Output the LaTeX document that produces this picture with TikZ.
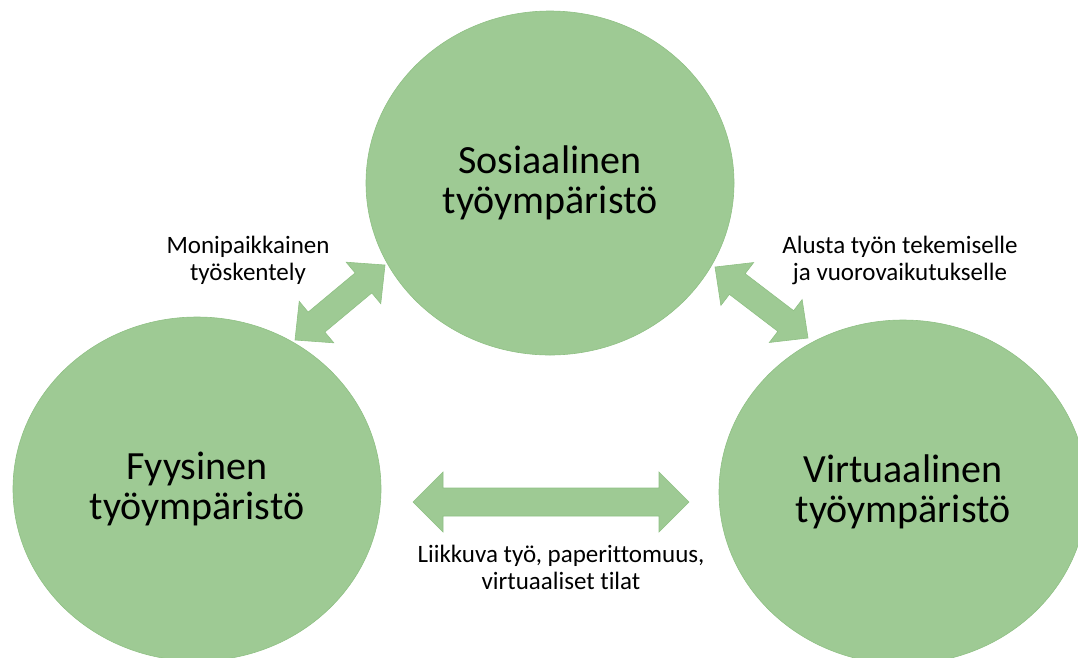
\documentclass[tikz,border=0pt]{standalone}
\usepackage{fontspec}
\setmainfont[Ligatures=NoCommon]{Carlito}
\usetikzlibrary{shapes.geometric,calc}

\definecolor{leaf}{RGB}{158,202,148}
\definecolor{leafedge}{RGB}{143,192,132}

\tikzset{
  envcircle/.style={ellipse, fill=leaf, draw=leafedge, line width=0.6pt,
    minimum width=368pt, minimum height=344pt, inner sep=0pt, align=center,
    font=\fontsize{40}{40}\selectfont},
  linktext/.style={align=center, inner sep=0pt, font=\fontsize{25}{27}\selectfont},
  arrowbody/.style={fill=leaf, draw=leafedge, line width=0.6pt, line join=miter}
}

% double-headed block arrow: from, to, head length, head half-width, shaft half-width
\newcommand\blockarrow[5]{%
  \path ($(#1)!#3!(#2)$) coordinate (h1) ($(#2)!#3!(#1)$) coordinate (h2);
  \filldraw[arrowbody] (#1)
    -- ($(h1)!#4!90:(#2)$) -- ($(h1)!#5!90:(#2)$)
    -- ($(h2)!#5!-90:(#1)$) -- ($(h2)!#4!-90:(#1)$)
    -- (#2)
    -- ($(h2)!#4!90:(#1)$) -- ($(h2)!#5!90:(#1)$)
    -- ($(h1)!#5!-90:(#2)$) -- ($(h1)!#4!-90:(#2)$)
    -- cycle;
}

\begin{document}
\begin{tikzpicture}[x=1pt, y=-1pt]
  \useasboundingbox (0,0) rectangle (1078,657);
  \clip (0,0) rectangle (1078,657);

  % the three work environments
  \node[envcircle] (social)   at (550,183) {Sosiaalinen\\työympäristö};
  \node[envcircle] (physical) at (197,489) {Fyysinen\\työympäristö};
  \node[envcircle] (virtual)  at (903,492) {Virtuaalinen\\työympäristö};

  % arrow end points
  \coordinate (psA) at (295,340);
  \coordinate (psB) at (385,265);
  \coordinate (svA) at (715,267);
  \coordinate (svB) at (808,338);
  \coordinate (pvA) at (413,502);
  \coordinate (pvB) at (689,502);

  \blockarrow{psA}{psB}{28pt}{27pt}{13pt}
  \blockarrow{svA}{svB}{28pt}{27pt}{13pt}
  \blockarrow{pvA}{pvB}{30pt}{30pt}{14pt}

  % link descriptions
  \node[linktext] (psText) at (248,260) {Monipaikkainen\\työskentely};
  \node[linktext] (svText) at (900,260) {Alusta työn tekemiselle\\ja vuorovaikutukselle};
  \node[linktext] (pvText) at (561,567) {Liikkuva työ, paperittomuus,\\virtuaaliset tilat};
\end{tikzpicture}
\end{document}
